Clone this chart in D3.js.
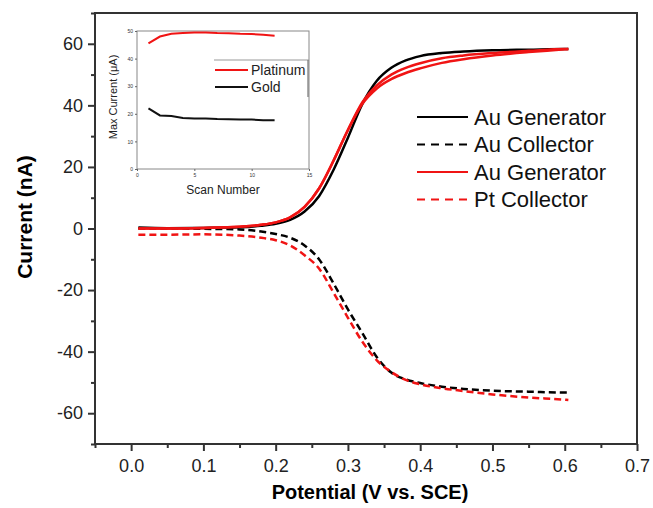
<html>
<head>
<meta charset="utf-8">
<script src="https://cdn.jsdelivr.net/npm/d3@7"></script>
<style>
  body { margin: 0; background: #fff; }
  text { font-family: "Liberation Sans", Arial, sans-serif; }
</style>
</head>
<body>
<svg width="653" height="508"></svg>
<script>
// main plot data (potential in V, current in nA)
const potential = [0.01, 0.05, 0.10, 0.15, 0.18, 0.20, 0.22, 0.24, 0.26, 0.28, 0.30, 0.32, 0.34, 0.36, 0.38, 0.40, 0.43, 0.46, 0.50, 0.55, 0.60, 0.605];
const auGenerator = [0.3, 0.1, 0.2, 0.4, 0.9, 1.5, 2.8, 5.5, 10.5, 19, 29.5, 40.5, 48, 52.2, 54.6, 56, 57, 57.5, 57.9, 58.1, 58.3, 58.3];
const auCollector = [0, 0, -0.1, -0.3, -1, -1.8, -3, -5.5, -10, -17.8, -26.3, -34, -41.8, -46.8, -49, -50.2, -51.4, -52.1, -52.7, -53, -53.3, -53.3];
const ptGeneratorA = [0, 0, 0.2, 0.6, 1.2, 2, 3.6, 7, 13, 22, 32, 40.5, 45.5, 48.5, 50.5, 52, 53.8, 55, 56.2, 57.3, 58.2, 58.3];
const ptGeneratorB = [0, 0, 0.2, 0.6, 1.2, 2, 3.6, 7, 13, 22, 32, 41, 46.5, 50, 52.2, 53.7, 55.3, 56.2, 57, 57.7, 58.3, 58.3];
const ptCollector = [-2, -2, -1.9, -2.3, -3, -3.8, -5.5, -8.7, -13, -20.8, -29, -36.8, -42.8, -46.6, -49.2, -50.6, -51.9, -52.8, -53.9, -54.9, -55.6, -55.7];

const xTicks = [0.0, 0.1, 0.2, 0.3, 0.4, 0.5, 0.6, 0.7];
const yTicks = [-60, -40, -20, 0, 20, 40, 60];
const legendLabels = ["Au Generator", "Au Collector", "Au Generator", "Pt Collector"];

// inset data
const scanNumber = [1, 2, 3, 4, 5, 6, 7, 8, 9, 10, 11, 12];
const platinumMax = [45.5, 48, 49, 49.3, 49.5, 49.5, 49.3, 49.2, 49, 48.9, 48.6, 48.3];
const goldMax = [22, 19.4, 19.2, 18.5, 18.3, 18.3, 18.1, 18, 17.9, 17.9, 17.7, 17.7];
const insetXTicks = [0, 5, 10, 15];
const insetYTicks = [0, 10, 20, 30, 40, 50];

const svg = d3.select("svg");
const mLeft = 95, mRight = 637, mTop = 13, mBottom = 444;

const x = d3.scaleLinear().domain([-0.05, 0.7]).range([mLeft, mRight]);
const y = d3.scaleLinear().domain([-70, 70]).range([mBottom, mTop]);

// frame
svg.append("rect")
  .attr("x", mLeft).attr("y", mTop)
  .attr("width", mRight - mLeft).attr("height", mBottom - mTop)
  .attr("fill", "none").attr("stroke", "#333").attr("stroke-width", 2);

// axes
const axes = svg.append("g");
axes.append("g").attr("transform", `translate(0,${mBottom})`)
  .call(d3.axisBottom(x).tickValues(xTicks).tickFormat(d => d.toFixed(1)).tickSize(7).tickPadding(8));
axes.append("g").attr("transform", `translate(0,${mBottom})`)
  .call(d3.axisBottom(x).tickValues(xTicks.map(d => d - 0.05)).tickFormat("").tickSize(4));
axes.append("g").attr("transform", `translate(${mLeft},0)`)
  .call(d3.axisLeft(y).tickValues(yTicks).tickFormat(d => String(d)).tickSize(7).tickPadding(5));
axes.append("g").attr("transform", `translate(${mLeft},0)`)
  .call(d3.axisLeft(y).tickValues([-70, -50, -30, -10, 10, 30, 50, 70]).tickFormat("").tickSize(4));

axes.selectAll(".domain").remove();
axes.selectAll(".tick line").attr("stroke", "#333").attr("stroke-width", 2);
axes.selectAll(".tick text").attr("fill", "#222").style("font-size", "18px")
  .style("font-family", "'Liberation Sans', Arial, sans-serif");

// axis titles
svg.append("text").attr("x", 370).attr("y", 499).attr("text-anchor", "middle")
  .style("font-size", "20px").style("font-weight", "bold").text("Potential (V vs. SCE)");
svg.append("text").attr("transform", "translate(32,217) rotate(-90)").attr("text-anchor", "middle")
  .style("font-size", "21px").style("font-weight", "bold").text("Current (nA)");

// curves
const line = vals => d3.line()
  .x((d, i) => x(potential[i]))
  .y(d => y(d))
  .curve(d3.curveMonotoneX)(vals);

const series = [
  { v: auCollector, color: "#000", dash: "7,4" },
  { v: ptCollector, color: "#f01414", dash: "7,4" },
  { v: auGenerator, color: "#000", dash: null },
  { v: ptGeneratorB, color: "#f01414", dash: null },
  { v: ptGeneratorA, color: "#f01414", dash: null }
];
series.forEach(s => {
  svg.append("path").attr("d", line(s.v))
    .attr("fill", "none").attr("stroke", s.color).attr("stroke-width", 2.5)
    .attr("stroke-dasharray", s.dash);
});

// legend
const legColors = ["#000", "#000", "#f01414", "#f01414"];
const legDash = [null, "8,6", null, "8,6"];
legendLabels.forEach((lab, i) => {
  const ly = 117 + i * 27.5;
  svg.append("line").attr("x1", 417).attr("x2", 468).attr("y1", ly).attr("y2", ly)
    .attr("stroke", legColors[i]).attr("stroke-width", 2).attr("stroke-dasharray", legDash[i]);
  svg.append("text").attr("x", 474).attr("y", ly + 7.5)
    .style("font-size", "22px").attr("fill", "#111").text(lab);
});

// inset
const ix = d3.scaleLinear().domain([0, 15]).range([137, 309]);
const iy = d3.scaleLinear().domain([0, 50]).range([169, 31]);

const inset = svg.append("g");
inset.append("rect").attr("x", 137).attr("y", 31).attr("width", 172).attr("height", 138)
  .attr("fill", "#fff").attr("stroke", "#888").attr("stroke-width", 1);

inset.append("g").attr("transform", "translate(0,169)")
  .call(d3.axisBottom(ix).tickValues(insetXTicks).tickSize(2).tickPadding(2));
inset.append("g").attr("transform", "translate(137,0)")
  .call(d3.axisLeft(iy).tickValues(insetYTicks).tickSize(2).tickPadding(2));
inset.selectAll(".domain").remove();
inset.selectAll(".tick line").attr("stroke", "#666");
inset.selectAll(".tick text").style("font-size", "5px").attr("fill", "#333");

inset.append("text").attr("x", 223).attr("y", 194).attr("text-anchor", "middle")
  .style("font-size", "12px").attr("fill", "#222").text("Scan Number");
inset.append("text").attr("transform", "translate(117,97) rotate(-90)").attr("text-anchor", "middle")
  .style("font-size", "11px").attr("fill", "#222").text("Max Current (\u03bcA)");

const iline = vals => d3.line().x((d, i) => ix(scanNumber[i])).y(d => iy(d))(vals);
inset.append("path").attr("d", iline(platinumMax)).attr("fill", "none")
  .attr("stroke", "#f01414").attr("stroke-width", 2);
inset.append("path").attr("d", iline(goldMax)).attr("fill", "none")
  .attr("stroke", "#111").attr("stroke-width", 2);

// inset legend
inset.append("line").attr("x1", 214).attr("x2", 309).attr("y1", 60).attr("y2", 60)
  .attr("stroke", "#999").attr("stroke-width", 1);
inset.append("line").attr("x1", 308).attr("x2", 308).attr("y1", 60).attr("y2", 97)
  .attr("stroke", "#777").attr("stroke-width", 1.2);
[["Platinum", "#f01414"], ["Gold", "#111"]].forEach((d, i) => {
  const ly = 70 + i * 17;
  inset.append("line").attr("x1", 215).attr("x2", 248).attr("y1", ly).attr("y2", ly)
    .attr("stroke", d[1]).attr("stroke-width", 2);
  inset.append("text").attr("x", 251).attr("y", ly + 5)
    .style("font-size", "14px").attr("fill", "#222").text(d[0]);
});
</script>
</body>
</html>
